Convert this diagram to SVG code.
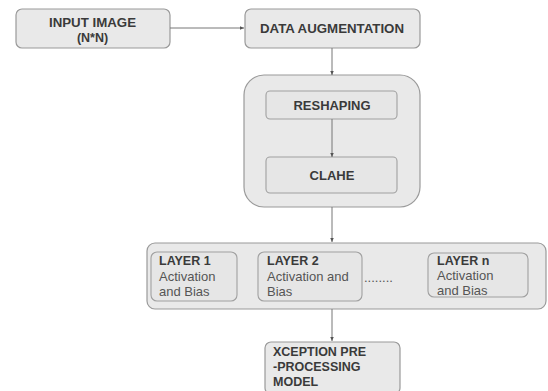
<svg xmlns="http://www.w3.org/2000/svg" width="548" height="391" viewBox="0 0 548 391">
  <style>
    .box { fill: #e9e9e9; stroke: #9a9a9a; stroke-width: 1.2; }
    .inner { fill: #e6e6e6; stroke: #a0a0a0; stroke-width: 1.1; }
    .lbl { font-family: "Liberation Sans", Arial, sans-serif; font-size: 12.5px; font-weight: bold; fill: #3a3a3a; }
    .txt { font-family: "Liberation Sans", Arial, sans-serif; font-size: 13px; fill: #555; }
    .edge { stroke: #777; stroke-width: 1; fill: none; }
  </style>
  <defs>
    <marker id="arr" markerWidth="5" markerHeight="5" refX="4.5" refY="2.5" orient="auto" markerUnits="userSpaceOnUse">
      <path d="M0,0.5 L4.5,2.5 L0,4.5 z" fill="#555"/>
    </marker>
  </defs>
  <rect width="548" height="391" fill="#ffffff"/>

  <g id="input-image">
    <rect class="box" x="16" y="9" width="154" height="39" rx="6"/>
    <text class="lbl" x="92.5" y="27" text-anchor="middle" textLength="87" lengthAdjust="spacingAndGlyphs">INPUT IMAGE</text>
    <text class="lbl" x="92.5" y="42" text-anchor="middle">(N*N)</text>
  </g>

  <g id="data-augmentation">
    <rect class="box" x="245" y="9" width="175" height="39" rx="6"/>
    <text class="lbl" x="332" y="33" text-anchor="middle" textLength="144" lengthAdjust="spacingAndGlyphs">DATA AUGMENTATION</text>
  </g>

  <g id="preprocessing">
    <rect class="box" x="244" y="75" width="176" height="132" rx="20"/>
    <g id="reshaping">
      <rect class="inner" x="266" y="91" width="131" height="28" rx="4"/>
      <text class="lbl" x="332" y="110" text-anchor="middle" textLength="77" lengthAdjust="spacingAndGlyphs">RESHAPING</text>
    </g>
    <g id="clahe">
      <rect class="inner" x="266" y="157" width="131" height="36" rx="4"/>
      <text class="lbl" x="332" y="180" text-anchor="middle" textLength="45" lengthAdjust="spacingAndGlyphs">CLAHE</text>
    </g>
  </g>

  <g id="layers">
    <rect class="box" x="147" y="243" width="399" height="66" rx="8"/>
    <g id="layer-1">
      <rect class="inner" x="151" y="252" width="86" height="49" rx="6"/>
      <text class="lbl" x="159" y="265" font-size="13">LAYER 1</text>
      <text class="txt" x="159" y="281">Activation</text>
      <text class="txt" x="159" y="296">and Bias</text>
    </g>
    <g id="layer-2">
      <rect class="inner" x="258" y="252" width="104" height="49" rx="6"/>
      <text class="lbl" x="267" y="265" font-size="13">LAYER 2</text>
      <text class="txt" x="267" y="281">Activation and</text>
      <text class="txt" x="267" y="296">Bias</text>
    </g>
    <text class="txt" x="364" y="282" font-size="11" fill="#666">........</text>
    <g id="layer-n">
      <rect class="inner" x="428" y="253" width="100" height="44" rx="6"/>
      <text class="lbl" x="437" y="265" font-size="13">LAYER n</text>
      <text class="txt" x="437" y="280">Activation</text>
      <text class="txt" x="437" y="295">and Bias</text>
    </g>
  </g>

  <g id="xception">
    <rect class="box" x="265" y="342" width="135" height="52" rx="6"/>
    <text class="lbl" x="273" y="356" font-size="13">XCEPTION PRE</text>
    <text class="lbl" x="273" y="371" font-size="13">-PROCESSING</text>
    <text class="lbl" x="273" y="386" font-size="13">MODEL</text>
  </g>

  <g id="connectors">
    <line class="edge" x1="170" y1="28" x2="244" y2="28" marker-end="url(#arr)"/>
    <line class="edge" x1="332" y1="48" x2="332" y2="75" marker-end="url(#arr)"/>
    <line class="edge" x1="332" y1="119" x2="332" y2="157" marker-end="url(#arr)"/>
    <line class="edge" x1="332" y1="207" x2="332" y2="242" marker-end="url(#arr)"/>
    <line class="edge" x1="332" y1="309" x2="332" y2="341" marker-end="url(#arr)"/>
  </g>
</svg>
